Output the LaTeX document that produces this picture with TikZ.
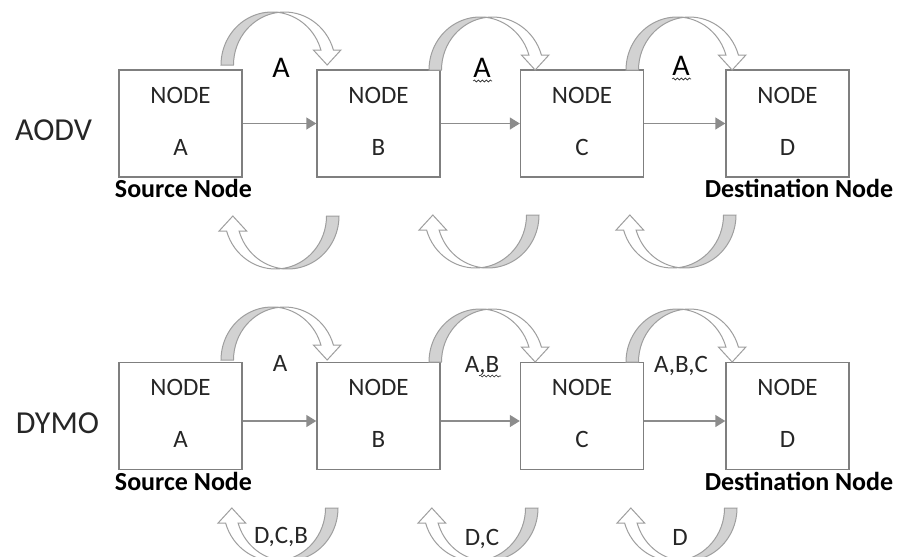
\documentclass[tikz,border=0pt]{standalone}
\usepackage{fontspec}
\setmainfont{Carlito}
\usetikzlibrary{arrows.meta,calc,decorations.pathmorphing}

\definecolor{boxgray}{HTML}{7F7F7F}
\definecolor{linkgray}{HTML}{8C8C8C}
\definecolor{bandgray}{HTML}{D2D2D2}
\definecolor{edgegray}{HTML}{9E9E9E}
\definecolor{inkgray}{HTML}{262626}

\tikzset{
  nodebox/.style={draw=boxgray, line width=1.4pt, minimum width=123pt,
    minimum height=107pt, inner sep=0pt},
  boxtext/.style={font=\fontsize{25}{30}\selectfont, text=inkgray,
    inner sep=0pt, anchor=base},
  hoplabel/.style={font=\fontsize{30}{36}\selectfont, text=black,
    inner sep=0pt, anchor=base},
  pathlabel/.style={font=\fontsize{25}{30}\selectfont, text=inkgray,
    inner sep=0pt, anchor=base},
  protolabel/.style={font=\fontsize{32}{38}\selectfont, text=inkgray,
    inner sep=0pt, anchor=base},
  rolelabel/.style={font=\bfseries\fontsize{26}{31}\selectfont, text=black,
    inner sep=0pt, anchor=base},
  link/.style={draw=linkgray, line width=1.4pt,
    -{Triangle[length=10pt,width=12pt]}},
  squiggle/.style={draw=inkgray, line width=0.6pt, decorate,
    decoration={snake, segment length=4pt, amplitude=1pt}},
  % curved hop arrow: shaded back leg on the left, white front leg with head
  loopcurve/.pic={
    \begin{scope}[yscale=-1, line width=1pt]
      \filldraw[draw=edgegray, fill=bandgray]
        (0,0) arc[start angle=180, end angle=82.96, x radius=51, y radius=53]
        arc[start angle=97.04, end angle=180, x radius=51, y radius=53]
        -- cycle;
      \filldraw[draw=edgegray, fill=white]
        (57.25,52.6) arc[start angle=97.04, end angle=16.44, x radius=51, y radius=53]
        -- (119.9,15) -- (106.16,0) -- (92.4,15) -- (99.91,15)
        arc[start angle=16.44, end angle=82.96, x radius=51, y radius=53]
        -- cycle;
    \end{scope}
  }
}

\begin{document}
\begin{tikzpicture}[x=1pt, y=-1pt]
  \useasboundingbox (0,0) rectangle (900,557);

  % ---------------- AODV row ----------------
  \node[nodebox] (a1) at (180.5,123.5) {};
  \node[nodebox] (b1) at (378.5,123.5) {};
  \node[nodebox] (c1) at (582,123.5) {};
  \node[nodebox] (d1) at (787.5,123.5) {};

  \draw[link] (a1.east) -- (b1.west);
  \draw[link] (b1.east) -- (c1.west);
  \draw[link] (c1.east) -- (d1.west);

  \path (221,65) pic {loopcurve};
  \path (429,70) pic {loopcurve};
  \path (626,70) pic {loopcurve};
  \path (339,216) pic[rotate=180] {loopcurve};
  \path (539,215) pic[rotate=180] {loopcurve};
  \path (736,215) pic[rotate=180] {loopcurve};

  \node[protolabel] (aodv) at (53.5,140) {AODV};
  \node[boxtext] (a1n) at (180.5,103) {NODE};
  \node[boxtext] (a1l) at (180.5,155) {A};
  \node[boxtext] (b1n) at (378.5,103) {NODE};
  \node[boxtext] (b1l) at (378.5,155) {B};
  \node[boxtext] (c1n) at (582,103) {NODE};
  \node[boxtext] (c1l) at (582,155) {C};
  \node[boxtext] (d1n) at (787.5,103) {NODE};
  \node[boxtext] (d1l) at (787.5,155) {D};
  \node[rolelabel] (src1) at (183.5,197) {Source Node};
  \node[rolelabel] (dst1) at (799,197) {Destination Node};

  \node[hoplabel] (h1ab) at (281,77) {A};
  \node[hoplabel] (h1bc) at (482,77) {A};
  \node[hoplabel] (h1cd) at (681,75) {A};
  \draw[squiggle] (h1bc.base west) ++(0,4) -- ++(19,0);
  \draw[squiggle] (h1cd.base west) ++(0,4) -- ++(19,0);

  % ---------------- DYMO row ----------------
  \node[nodebox] (a2) at (180.5,416) {};
  \node[nodebox] (b2) at (378.5,416) {};
  \node[nodebox] (c2) at (582,416) {};
  \node[nodebox] (d2) at (787.5,416) {};

  \draw[link] ([yshift=-5pt]a2.east) -- ([yshift=-5pt]b2.west);
  \draw[link] ([yshift=-5pt]b2.east) -- ([yshift=-5pt]c2.west);
  \draw[link] ([yshift=-5pt]c2.east) -- ([yshift=-5pt]d2.west);

  \path (221,360) pic {loopcurve};
  \path (429,362) pic {loopcurve};
  \path (626,362) pic {loopcurve};
  \path (338,508) pic[rotate=180] {loopcurve};
  \path (538,508) pic[rotate=180] {loopcurve};
  \path (737,508) pic[rotate=180] {loopcurve};

  \node[protolabel] (dymo) at (57.5,433) {DYMO};
  \node[boxtext] (a2n) at (180.5,395) {NODE};
  \node[boxtext] (a2l) at (180.5,447) {A};
  \node[boxtext] (b2n) at (378.5,395) {NODE};
  \node[boxtext] (b2l) at (378.5,447) {B};
  \node[boxtext] (c2n) at (582,395) {NODE};
  \node[boxtext] (c2l) at (582,447) {C};
  \node[boxtext] (d2n) at (787.5,395) {NODE};
  \node[boxtext] (d2l) at (787.5,447) {D};
  \node[rolelabel] (src2) at (183.5,490) {Source Node};
  \node[rolelabel] (dst2) at (799,490) {Destination Node};

  \node[pathlabel] (f2ab) at (280,371) {A};
  \node[pathlabel] (f2bc) at (482,372) {A,B};
  \node[pathlabel] (f2cd) at (681,372) {A,B,C};
  \draw[squiggle] ([xshift=-3pt]f2bc.base) ++(0,4) -- ++(22,0);

  \node[pathlabel] (r2ab) at (281,543) {D,C,B};
  \node[pathlabel] (r2bc) at (482,545) {D,C};
  \node[pathlabel] (r2cd) at (680,545) {D};
\end{tikzpicture}
\end{document}
